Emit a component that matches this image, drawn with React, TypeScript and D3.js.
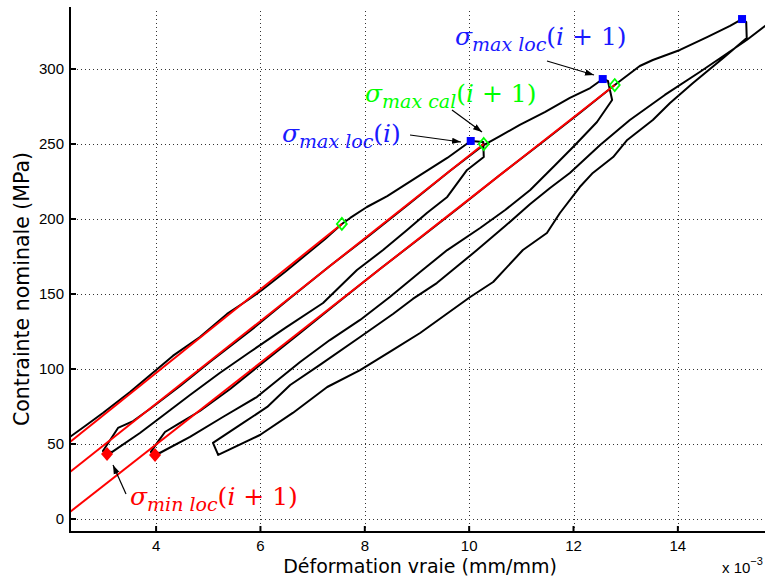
import React from "react";
import * as d3 from "d3";

// Continuous black stress-strain path (strain in 1e-3 mm/mm, stress in MPa)
const curveStrain = [
  2.36, 2.64, 2.98, 3.5, 4.07, 4.32, 4.84, 5.36, 5.76, 6.03, 6.47, 6.89, 7.24, 7.56, 7.72, 8.04, 8.43, 9.06, 9.58, 10.03,
  10.27, 10.28,
  9.96, 9.58, 9.19, 8.81, 8.35, 7.85, 7.2, 6.47, 5.8, 5.22, 4.65, 4.07, 3.69, 3.16,
  2.98,
  3.12, 3.27, 3.56, 3.88, 4.46, 5.03, 5.8, 6.57, 7.33, 8.1, 8.87, 9.63, 10.28,
  10.59, 10.97, 11.45, 11.93, 12.32, 12.56,
  12.66, 12.74,
  12.45, 12.03, 11.65, 11.17, 10.69, 10.21, 9.58, 9.06, 8.48, 7.91, 7.33, 6.76, 5.93, 5.28, 4.65, 4.07,
  3.9,
  4.02, 4.17, 4.42, 4.84, 5.42, 5.99, 6.76, 7.52, 8.29, 9.06, 9.82, 10.59, 11.36, 12.12, 12.79,
  13.27, 13.52, 14.04, 14.56, 15.0, 15.23,
  15.31, 15.32,
  14.87, 14.29, 13.85, 13.52, 13.03, 12.76, 12.37, 12.12, 11.74, 11.49, 11.03, 10.46, 10.02, 9.06, 8.54, 7.91, 7.28, 6.62, 5.99, 5.19,
  5.09,
  5.61, 6.13, 6.57, 7.14, 7.91, 8.54, 8.92, 9.38, 10.15, 10.69, 11.17, 11.55, 11.93, 12.51, 13.08, 13.75, 14.42, 14.9, 15.32, 15.67, 16.15,
];
const curveStress = [
  55.0, 62.0, 70.7, 84.7, 101.3, 108.7, 121.3, 136.7, 146.0, 152.7, 164.7, 176.7, 186.7, 196.7, 200.7, 208.0, 215.3, 229.3, 240.7, 252.0,
  251.3, 241.3,
  232.7, 214.7, 204.0, 192.7, 179.3, 166.0, 144.0, 127.3, 111.3, 97.3, 82.7, 67.3, 57.3, 44.7,
  45.3,
  52.7, 60.7, 65.3, 73.3, 88.7, 104.7, 125.3, 147.3, 168.7, 189.3, 210.7, 232.0, 249.3,
  255.3, 262.7, 271.3, 280.7, 287.3, 293.3,
  292.0, 279.3,
  264.7, 249.3, 236.0, 219.3, 206.0, 194.0, 179.3, 164.7, 148.0, 132.7, 119.3, 104.7, 81.3, 68.0, 54.7, 44.0,
  44.7,
  50.7, 58.0, 63.3, 72.0, 86.7, 102.7, 124.0, 145.3, 166.7, 187.3, 208.0, 229.3, 250.0, 270.7, 289.3,
  302.0, 306.0, 312.7, 321.3, 328.7, 333.3,
  331.3, 320.7,
  307.3, 290.7, 277.3, 266.0, 252.7, 241.3, 230.7, 221.3, 204.0, 190.7, 179.3, 158.0, 148.0, 124.0, 112.7, 99.3, 88.0, 70.7, 56.0, 42.7,
  50.7,
  62.7, 74.7, 89.3, 102.7, 121.3, 136.7, 146.7, 157.3, 179.3, 195.3, 210.0, 220.7, 230.7, 249.3, 266.0, 282.7, 298.0, 309.3, 319.3, 328.7, 340.7,
];

// Red linear fits
const fitStartStrain = [2.35, 2.35, 2.35];
const fitStartStress = [51.3, 31.3, 4.7];
const fitEndStrain = [7.56, 10.28, 12.79];
const fitEndStress = [196.7, 250.0, 289.3];

// Markers
const maxLocStrain = [10.03, 12.56, 15.23];
const maxLocStress = [252.0, 293.3, 333.3];
const maxCalStrain = [7.56, 10.28, 12.79];
const maxCalStress = [196.7, 250.0, 289.3];
const minLocStrain = [3.06, 3.98];
const minLocStress = [43.3, 42.7];

const xTicks = [4, 6, 8, 10, 12, 14];
const yTicks = [0, 50, 100, 150, 200, 250, 300];

const W = 765;
const H = 578;
const L = 70;
const R = 765;
const T = 7;
const B = 532;

const MATH_FONT = "'DejaVu Serif', serif";
const SANS = "'Liberation Sans', Arial, sans-serif";
const LABEL_FONT = "'DejaVu Sans', sans-serif";

function MathLabel({ x, y, color, sub, arg }: { x: number; y: number; color: string; sub: string; arg: string }) {
  return (
    <text x={x} y={y} fill={color} fontFamily={MATH_FONT} fontSize={25}>
      <tspan fontStyle="italic">σ</tspan>
      <tspan fontStyle="italic" fontSize={19} dy={6}>{sub}</tspan>
      <tspan dy={-6}>(</tspan>
      <tspan fontStyle="italic">i</tspan>
      <tspan>{arg}</tspan>
    </text>
  );
}

export default function App() {
  const x = d3.scaleLinear().domain([2.35, 15.67]).range([L, R]);
  const y = d3.scaleLinear().domain([-8.67, 341.33]).range([B, T]);

  const pts: [number, number][] = curveStrain.map((s, i) => [s, curveStress[i]]);
  const line = d3
    .line<[number, number]>()
    .x((d) => x(d[0]))
    .y((d) => y(d[1]));

  return (
    <svg width={W} height={H} style={{ position: "absolute", left: 0, top: 0, background: "#fff" }}>
      <defs>
        <clipPath id="plot">
          <rect x={L} y={0} width={R - L + 40} height={B} />
        </clipPath>
        <marker id="arrow" viewBox="0 0 10 10" refX={10} refY={5} markerWidth={9} markerHeight={9} markerUnits="userSpaceOnUse" orient="auto">
          <path d="M0,1.5 L10,5 L0,8.5 Z" fill="#000" />
        </marker>
      </defs>
      <rect x={0} y={0} width={W} height={H} fill="#fff" />

      {/* grid */}
      <g stroke="#333" strokeWidth={1} strokeDasharray="1 3" shapeRendering="crispEdges">
        {yTicks.map((t) => (
          <line key={"gy" + t} x1={L + 3} x2={R} y1={Math.round(y(t)) + 0.5} y2={Math.round(y(t)) + 0.5} />
        ))}
        {xTicks.map((t) => (
          <line key={"gx" + t} x1={Math.round(x(t)) + 0.5} x2={Math.round(x(t)) + 0.5} y1={T + 4} y2={B - 2} />
        ))}
      </g>

      {/* curves */}
      <g clipPath="url(#plot)">
        <path d={line(pts) || ""} fill="none" stroke="#000" strokeWidth={2} strokeLinejoin="round" />
        {fitStartStrain.map((s, i) => (
          <line
            key={"fit" + i}
            x1={x(s)}
            y1={y(fitStartStress[i])}
            x2={x(fitEndStrain[i])}
            y2={y(fitEndStress[i])}
            stroke="#ff0000"
            strokeWidth={2}
          />
        ))}
      </g>

      {/* markers */}
      {maxLocStrain.map((s, i) => (
        <rect key={"ml" + i} x={x(s) - 4} y={y(maxLocStress[i]) - 4} width={8} height={8} fill="#0000ff" />
      ))}
      {maxCalStrain.map((s, i) => {
        const cx = x(s);
        const cy = y(maxCalStress[i]);
        return (
          <path
            key={"mc" + i}
            d={`M${cx},${cy - 6}L${cx + 5},${cy}L${cx},${cy + 6}L${cx - 5},${cy}Z`}
            fill="none"
            stroke="#00ff00"
            strokeWidth={1.8}
          />
        );
      })}
      {minLocStrain.map((s, i) => {
        const cx = x(s);
        const cy = y(minLocStress[i]);
        return (
          <path key={"mn" + i} d={`M${cx},${cy - 7}L${cx + 6},${cy}L${cx},${cy + 7}L${cx - 6},${cy}Z`} fill="#ff0000" />
        );
      })}

      {/* axes */}
      <g stroke="#000" strokeWidth={2}>
        <line x1={L} x2={L} y1={T} y2={B + 1} />
        <line x1={L - 1} x2={R} y1={B} y2={B} />
        {yTicks.map((t) => (
          <line key={"ty" + t} x1={L} x2={L + 6} y1={y(t)} y2={y(t)} />
        ))}
        {xTicks.map((t) => (
          <line key={"tx" + t} x1={x(t)} x2={x(t)} y1={B} y2={B - 6} />
        ))}
      </g>
      <g fontFamily={SANS} fontSize={15} fill="#000">
        {yTicks.map((t) => (
          <text key={"ly" + t} x={L - 6} y={y(t) + 5} textAnchor="end">
            {t}
          </text>
        ))}
        {xTicks.map((t) => (
          <text key={"lx" + t} x={x(t)} y={B + 19} textAnchor="middle">
            {t}
          </text>
        ))}
        <text x={722} y={573} fontSize={15}>
          x 10
          <tspan fontSize={11} dy={-8}>−3</tspan>
        </text>
      </g>
      <text x={420} y={573} textAnchor="middle" fontFamily={LABEL_FONT} fontSize={19} fill="#000">
        Déformation vraie (mm/mm)
      </text>
      <text
        transform="translate(29,289) rotate(-90)"
        textAnchor="middle"
        fontFamily={LABEL_FONT}
        fontSize={20.5}
        fill="#000"
      >
        Contrainte nominale (MPa)
      </text>

      {/* annotations */}
      <g stroke="#000" strokeWidth={1.2} fill="none">
        <line x1={547} y1={61} x2={594} y2={75} markerEnd="url(#arrow)" />
        <line x1={452} y1={110} x2={482} y2={132} markerEnd="url(#arrow)" />
        <line x1={410} y1={135} x2={461} y2={142} markerEnd="url(#arrow)" />
        <line x1={126} y1={494} x2={113} y2={465} markerEnd="url(#arrow)" />
      </g>
      <MathLabel x={455} y={45} color="#1a1aff" sub="max loc" arg=" + 1)" />
      <MathLabel x={365} y={102} color="#00ff00" sub="max cal" arg=" + 1)" />
      <MathLabel x={282} y={142} color="#1a1aff" sub="max loc" arg=")" />
      <MathLabel x={130} y={505} color="#ff0000" sub="min loc" arg=" + 1)" />
    </svg>
  );
}
